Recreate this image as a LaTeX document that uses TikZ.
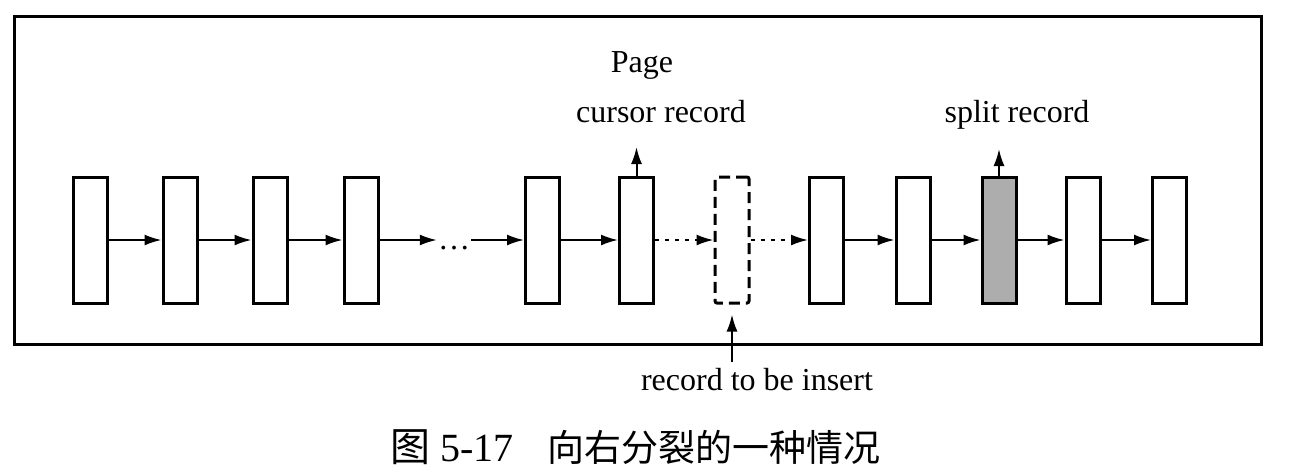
\documentclass[tikz,border=0pt]{standalone}
\usepackage{fontspec}
\setmainfont{Liberation Serif}
\newfontfamily\cjk{Noto Sans CJK SC}
\usetikzlibrary{arrows.meta}
\tikzset{
  rec/.style={draw, line width=3pt, minimum width=34pt, minimum height=126pt, inner sep=0pt, fill=white},
  recdash/.style={rec, dash pattern=on 11pt off 6pt, rounded corners=2pt},
  recshade/.style={rec, fill=black!32},
  arr/.style={line width=2pt, -{Latex[length=17pt,width=11pt]}},
  darr/.style={arr, dash pattern=on 4pt off 6pt},
  lab/.style={font=\fontsize{32}{38}\selectfont, inner sep=0pt, anchor=base},
  capstyle/.style={font=\fontsize{40}{48}\selectfont, inner sep=0pt}
}
\begin{document}
\begin{tikzpicture}[x=1pt,y=-1pt]
\useasboundingbox (0,0) rectangle (1308,472);
\draw[line width=3pt] (14,16) rectangle (1261,344);
% records
\node[rec] (b1) at (90,240) {};
\node[rec] (b2) at (180,240) {};
\node[rec] (b3) at (270,240) {};
\node[rec] (b4) at (361,240) {};
\node[font=\fontsize{32}{38}\selectfont, inner sep=1pt] (dots) at (454,248) {\dots};
\node[rec] (b5) at (542.5,240) {};
\node[rec] (b6) at (636.5,240) {};
\node[recdash] (dbox) at (732,240) {};
\node[rec] (b8) at (826.5,240) {};
\node[rec] (b9) at (913,240) {};
\node[recshade] (b10) at (999,240) {};
\node[rec] (b11) at (1083,240) {};
\node[rec] (b12) at (1169.5,240) {};
% links
\draw[arr] (b1.east) -- (b2.west);
\draw[arr] (b2.east) -- (b3.west);
\draw[arr] (b3.east) -- (b4.west);
\draw[arr] (b4.east) -- (b4.east -| dots.west);
\draw[arr] (b5.west -| dots.east) -- (b5.west);
\draw[arr] (b5.east) -- (b6.west);
\draw[darr] (b6.east) -- (dbox.west);
\draw[darr] (dbox.east) -- (b8.west);
\draw[arr] (b8.east) -- (b9.west);
\draw[arr] (b9.east) -- (b10.west);
\draw[arr] (b10.east) -- (b11.west);
\draw[arr] (b11.east) -- (b12.west);
% labels
\node[lab] (page) at (642,72) {Page};
\node[lab] (cur) at (661,122) {cursor record};
\node[lab] (spl) at (1017,122) {split record};
\node[lab] (ins) at (757,390) {record to be insert};
\coordinate (curtip) at (636.5,147);
\coordinate (spltip) at (999,149);
\coordinate (instail) at (732,362);
\draw[arr] (b6.north) -- (curtip);
\draw[arr] (b10.north) -- (spltip);
\draw[arr, shorten >=10pt] (instail) -- (dbox.south);
% caption
\node[capstyle, anchor=west] (capnum) at (390,447) {{\cjk 图}\hspace{10pt}5-17};
\node[capstyle, anchor=west] (captext) at (547,447) {\cjk\fontsize{37}{44}\selectfont 向右分裂的一种情况};
\end{tikzpicture}
\end{document}
